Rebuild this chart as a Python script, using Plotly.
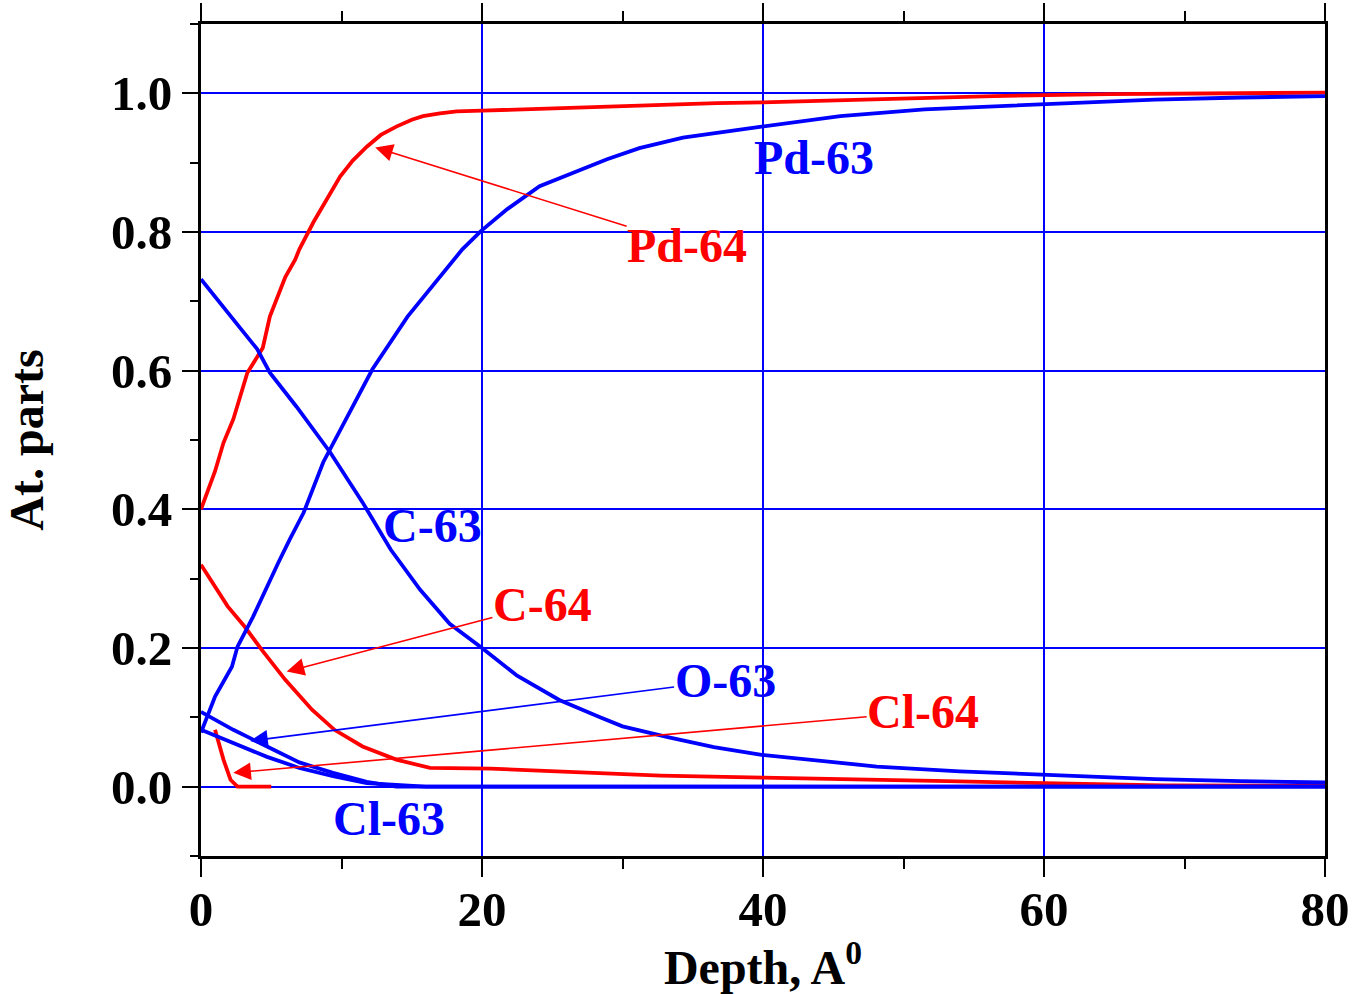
import plotly.graph_objects as go

# depth profiles (depth in A, atomic parts)
pd64_x = [0, 1.0, 1.6, 2.3, 3.3, 4.4, 4.9, 6.0, 6.7, 7.0, 8.0, 9.0, 9.9, 10.8, 11.8, 12.8, 13.9, 15.0,
          15.8, 17.0, 18.2, 20, 22.9, 27.7, 32.4, 36.7, 40, 48, 56.4, 64.6, 72, 80]
pd64_y = [0.40, 0.455, 0.496, 0.53, 0.597, 0.633, 0.678, 0.735, 0.76, 0.775, 0.814, 0.848, 0.880, 0.903,
          0.923, 0.94, 0.952, 0.962, 0.967, 0.971, 0.974, 0.975, 0.977, 0.980, 0.983, 0.986, 0.987,
          0.992, 0.996, 0.999, 1.0, 1.001]

pd63_x = [0, 1.0, 2.2, 2.6, 3.7, 4.7, 5.5, 6.3, 7.3, 8.7, 10.4, 12.2, 14.7, 17.0, 18.6, 19.9, 21.8,
          24.1, 26.5, 28.9, 31.2, 34.3, 39.9, 45.5, 51.5, 60, 67.9, 74, 80]
pd63_y = [0.078, 0.13, 0.173, 0.202, 0.245, 0.289, 0.323, 0.356, 0.395, 0.468, 0.534, 0.602, 0.678,
          0.736, 0.775, 0.801, 0.833, 0.866, 0.886, 0.905, 0.921, 0.936, 0.952, 0.967, 0.977, 0.984,
          0.991, 0.994, 0.996]

c63_x = [0, 2.3, 4.0, 4.9, 6.8, 9.2, 11.5, 13.5, 15.6, 17.7, 20, 22.5, 25.5, 28.4, 30, 33.3, 36.5,
         39.9, 44, 48.1, 54, 60, 67.9, 74, 80]
c63_y = [0.732, 0.674, 0.631, 0.597, 0.548, 0.482, 0.410, 0.342, 0.284, 0.235, 0.2, 0.16, 0.125, 0.1,
         0.087, 0.071, 0.057, 0.046, 0.037, 0.029, 0.022, 0.017, 0.011, 0.008, 0.006]

c64_x = [0, 1.9, 3.1, 4.3, 6.0, 7.9, 9.5, 11.5, 13.9, 16.3, 20.6, 28.4, 32.7, 40, 46.5, 53.1, 60, 68.5, 80]
c64_y = [0.32, 0.26, 0.231, 0.198, 0.154, 0.111, 0.082, 0.058, 0.039, 0.027, 0.026, 0.020, 0.016,
         0.013, 0.011, 0.008, 0.005, 0.002, 0.001]

o63_x = [0, 2.3, 4.7, 7.0, 9.4, 11.8, 13.9, 80]
o63_y = [0.108, 0.082, 0.058, 0.035, 0.020, 0.007, 0.0, 0.0]

cl63_x = [0, 2.3, 4.7, 7.0, 9.4, 11.8, 16, 80]
cl63_y = [0.082, 0.063, 0.043, 0.027, 0.015, 0.005, 0.0, 0.0]

cl64_x = [1.0, 1.6, 2.1, 2.6, 5.0]
cl64_y = [0.082, 0.039, 0.01, 0.0, 0.0]

# curve labels: text, label x, label y, colour, arrow head (x, y) or None
labels = [
    ("Pd-63", 43.6, 0.908, "blue", None),
    ("Pd-64", 34.6, 0.781, "red", (12.4, 0.922)),
    ("C-63", 16.45, 0.376, "blue", None),
    ("C-64", 24.3, 0.263, "red", (6.1, 0.166)),
    ("O-63", 37.3, 0.153, "blue", (3.5, 0.066)),
    ("Cl-64", 51.4, 0.108, "red", (2.3, 0.020)),
    ("Cl-63", 13.4, -0.046, "blue", None),
]

font = "Liberation Serif, Times New Roman, serif"

fig = go.Figure()

series = [
    (pd64_x, pd64_y, "red"), (c64_x, c64_y, "red"), (cl64_x, cl64_y, "red"),
    (pd63_x, pd63_y, "blue"), (c63_x, c63_y, "blue"), (o63_x, o63_y, "blue"), (cl63_x, cl63_y, "blue"),
]
for xs, ys, col in series:
    fig.add_trace(go.Scatter(x=xs, y=ys, mode="lines", line=dict(color=col, width=3.8), showlegend=False))

for txt, x, y, col, head in labels:
    lab_font = dict(family=font, size=48, color=col, weight="bold")
    if head is None:
        fig.add_annotation(x=x, y=y, text=txt, showarrow=False, font=lab_font)
    else:
        fig.add_annotation(x=head[0], y=head[1], ax=x, ay=y, axref="x", ayref="y", text=txt,
                           font=lab_font, showarrow=True, arrowhead=2, arrowsize=2.2,
                           arrowwidth=1.6, arrowcolor=col, borderpad=0)

fig.update_xaxes(range=[0, 80], dtick=20, tick0=0, ticks="outside", ticklen=18, tickwidth=2,
                 tickcolor="black", minor=dict(dtick=10, ticks="outside", ticklen=10, tickwidth=2,
                                               tickcolor="black", showgrid=False),
                 showline=True, linecolor="black", linewidth=3, mirror="allticks",
                 showgrid=True, gridcolor="blue", gridwidth=2, zeroline=False, automargin=False,
                 ticklabelstandoff=-10, ticklabeloverflow="allow",
                 tickfont=dict(family=font, size=49, color="black", weight="bold"),
                 title=dict(text="Depth, A<sup>0</sup>", standoff=4,
                            font=dict(family=font, size=48, color="black", weight="bold")))
fig.update_yaxes(range=[-0.1, 1.1], dtick=0.2, tick0=0, tickformat=".1f", ticks="outside", ticklen=16,
                 tickwidth=2, tickcolor="black",
                 minor=dict(dtick=0.1, ticks="outside", ticklen=8, tickwidth=2, tickcolor="black", showgrid=False),
                 showline=True, linecolor="black", linewidth=3, mirror=True, automargin=False,
                 showgrid=True, gridcolor="blue", gridwidth=2, zeroline=True, zerolinecolor="blue",
                 zerolinewidth=2,
                 tickfont=dict(family=font, size=49, color="black", weight="bold"),
                 title=dict(text="At. parts", standoff=54,
                            font=dict(family=font, size=48, color="black", weight="bold")))

fig.update_layout(width=1353, height=994, margin=dict(l=201, r=28, t=24, b=138),
                  paper_bgcolor="white", plot_bgcolor="white")

# drop the default 8 px body margin so the figure fills the window
fig.write_html("out.html", config={"displayModeBar": False},
               post_script="document.body.style.margin='0';document.body.style.overflow='hidden';")
